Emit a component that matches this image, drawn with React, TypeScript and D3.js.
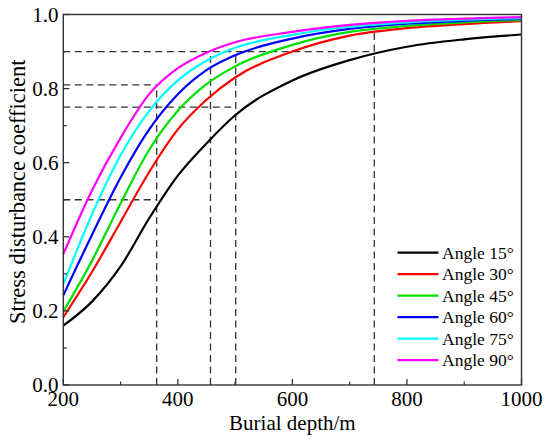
import React, { useEffect, useRef } from 'react';
import * as d3 from 'd3';

// burial depth samples (m)
const depths = [200, 250, 300, 350, 400, 450, 500, 600, 700, 800, 900, 1000];

// stress disturbance coefficient per dip angle
const angle15 = [0.16, 0.225, 0.32, 0.45, 0.565, 0.652, 0.728, 0.822, 0.877, 0.913, 0.933, 0.946];
const angle30 = [0.183, 0.305, 0.44, 0.575, 0.69, 0.77, 0.83, 0.9, 0.943, 0.963, 0.974, 0.982];
const angle45 = [0.198, 0.335, 0.49, 0.635, 0.74, 0.812, 0.86, 0.918, 0.953, 0.969, 0.979, 0.985];
const angle60 = [0.242, 0.405, 0.56, 0.69, 0.785, 0.85, 0.89, 0.935, 0.961, 0.975, 0.983, 0.988];
const angle75 = [0.272, 0.46, 0.62, 0.74, 0.822, 0.875, 0.91, 0.945, 0.967, 0.979, 0.986, 0.99];
const angle90 = [0.353, 0.525, 0.667, 0.785, 0.855, 0.897, 0.925, 0.953, 0.972, 0.983, 0.989, 0.993];

const seriesNames = ['Angle 15°', 'Angle 30°', 'Angle 45°', 'Angle 60°', 'Angle 75°', 'Angle 90°'];
const seriesColors = ['#000000', '#ff0000', '#00e000', '#0000ff', '#00ffff', '#ff00ff'];
const seriesValues = [angle15, angle30, angle45, angle60, angle75, angle90];

// dashed guide lines
const guideDepths = [363, 457, 501, 743];
const guideDepthTops = [0.81, 0.9, 0.9, 0.965];
const guideLevels = [0.9, 0.81, 0.75, 0.5];
const guideLevelEnds = [743, 363, 501, 363];

const xTicks = [200, 400, 600, 800, 1000];
const yTicks = [0, 0.2, 0.4, 0.6, 0.8, 1.0];

const App: React.FC = () => {
  const svgRef = useRef<SVGSVGElement>(null);

  useEffect(() => {
    if (!svgRef.current) return;
    const width = 550;
    const height = 442;
    const margin = { top: 14.5, right: 28.5, bottom: 57, left: 63.3 };
    const font = '"Liberation Serif", "Times New Roman", serif';

    const svg = d3.select(svgRef.current);
    svg.selectAll('*').remove();
    svg.attr('width', width).attr('height', height);

    const x = d3.scaleLinear().domain([200, 1000]).range([margin.left, width - margin.right]);
    const y = d3.scaleLinear().domain([0, 1]).range([height - margin.bottom, margin.top]);

    const g = svg.append('g');

    // guide lines
    const dash = '7,4.5';
    guideLevels.forEach((v, i) => {
      g.append('line')
        .attr('x1', x(200)).attr('x2', x(guideLevelEnds[i]))
        .attr('y1', y(v)).attr('y2', y(v))
        .attr('stroke', '#333').attr('stroke-width', 1.3).attr('stroke-dasharray', dash);
    });
    guideDepths.forEach((d, i) => {
      g.append('line')
        .attr('x1', x(d)).attr('x2', x(d))
        .attr('y1', y(0)).attr('y2', y(guideDepthTops[i]))
        .attr('stroke', '#333').attr('stroke-width', 1.3).attr('stroke-dasharray', dash);
    });

    // curves
    const line = d3.line<number>()
      .x((_, i) => x(depths[i]))
      .y((v) => y(v))
      .curve(d3.curveMonotoneX);

    seriesValues.forEach((vals, i) => {
      g.append('path')
        .attr('d', line(vals) || '')
        .attr('fill', 'none')
        .attr('stroke', seriesColors[i])
        .attr('stroke-width', 2.2);
    });

    // frame
    g.append('rect')
      .attr('x', x(200)).attr('y', y(1))
      .attr('width', x(1000) - x(200)).attr('height', y(0) - y(1))
      .attr('fill', 'none').attr('stroke', '#333').attr('stroke-width', 1.4);

    // ticks (inward)
    const xMinor = d3.range(300, 1000, 200);
    xTicks.forEach((t) => {
      g.append('line').attr('x1', x(t)).attr('x2', x(t)).attr('y1', y(0)).attr('y2', y(0) - 6)
        .attr('stroke', '#333').attr('stroke-width', 1.3);
      g.append('text').attr('x', x(t)).attr('y', 406).attr('text-anchor', 'middle')
        .attr('font-family', font).attr('font-size', 21).text(String(t));
    });
    xMinor.forEach((t) => {
      g.append('line').attr('x1', x(t)).attr('x2', x(t)).attr('y1', y(0)).attr('y2', y(0) - 3.5)
        .attr('stroke', '#333').attr('stroke-width', 1.2);
    });
    const yMinor = [0.1, 0.3, 0.5, 0.7, 0.9];
    yTicks.forEach((t) => {
      g.append('line').attr('x1', x(200)).attr('x2', x(200) + 6).attr('y1', y(t)).attr('y2', y(t))
        .attr('stroke', '#333').attr('stroke-width', 1.3);
      g.append('text').attr('x', 58.5).attr('y', y(t)).attr('dy', '0.34em').attr('text-anchor', 'end')
        .attr('font-family', font).attr('font-size', 21).text(t.toFixed(1));
    });
    yMinor.forEach((t) => {
      g.append('line').attr('x1', x(200)).attr('x2', x(200) + 3.5).attr('y1', y(t)).attr('y2', y(t))
        .attr('stroke', '#333').attr('stroke-width', 1.2);
    });

    // axis titles
    g.append('text').attr('x', (x(200) + x(1000)) / 2).attr('y', 430).attr('text-anchor', 'middle')
      .attr('font-family', font).attr('font-size', 21).text('Burial depth/m');
    g.append('text')
      .attr('transform', `translate(25,${(y(0) + y(1)) / 2 - 8}) rotate(-90)`)
      .attr('text-anchor', 'middle')
      .attr('font-family', font).attr('font-size', 22.5).text('Stress disturbance coefficient');

    // legend
    const legend = g.append('g');
    seriesNames.forEach((name, i) => {
      const ly = 252.7 + i * 21.5;
      legend.append('line').attr('x1', 397.5).attr('x2', 438.5).attr('y1', ly).attr('y2', ly)
        .attr('stroke', seriesColors[i]).attr('stroke-width', 2.2);
      legend.append('text').attr('x', 442).attr('y', ly).attr('dy', '0.35em')
        .attr('font-family', font).attr('font-size', 17.5).text(name);
    });
  }, []);

  return (
    <div style={{ position: 'absolute', left: 0, top: 0 }}>
      <svg ref={svgRef} style={{ display: 'block' }}></svg>
    </div>
  );
};

export default App;
